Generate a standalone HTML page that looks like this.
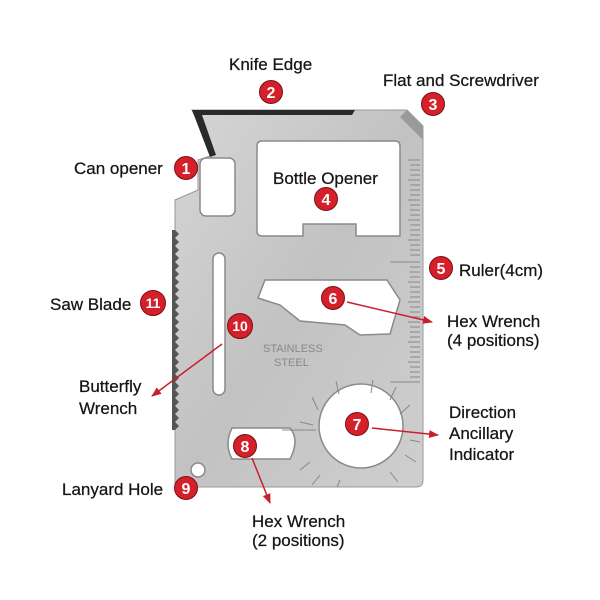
<!DOCTYPE html>
<html><head><meta charset="utf-8"><style>
html,body{margin:0;padding:0;background:#fff;width:600px;height:600px;overflow:hidden}
text{font-family:"Liberation Sans",Arial,sans-serif;font-size:17px;fill:#151515;stroke:#151515;stroke-width:0.25}
.n{fill:#fff;stroke:none;font-weight:bold;font-size:16px;text-anchor:middle}
</style></head><body>
<svg width="600" height="600" viewBox="0 0 600 600" xmlns="http://www.w3.org/2000/svg">
<defs>
<linearGradient id="g" x1="0" y1="0" x2="1" y2="1">
<stop offset="0" stop-color="#d6d6d6"/><stop offset="0.5" stop-color="#c2c2c2"/><stop offset="1" stop-color="#cfcfcf"/></linearGradient>
<marker id="a" markerWidth="10" markerHeight="8" refX="9" refY="4" orient="auto" markerUnits="userSpaceOnUse"><path d="M0,0 L10,4 L0,8z" fill="#c8202a"/></marker>
</defs>
<path d="M192,110 L407,110 L423,126 L423,480 Q423,487 416,487 L180,487 Q175,487 175,481 L175,200 L198,190 L198,160 L213,155 Z" fill="url(#g)" stroke="#999" stroke-width="1"/>
<path d="M192,110 L355,110 L352,115 L202,115 L216,155 L210,157 Z" fill="#2a2a2a"/>
<path d="M407,110 L423,126 L423,140 L400,117Z" fill="#9a9a9a"/>
<g fill="#555">
<path d="M175,230 l4,4 l-4,4 l4,4 l-4,4 l4,4 l-4,4 l4,4 l-4,4 l4,4 l-4,4 l4,4 l-4,4 l4,4 l-4,4 l4,4 l-4,4 l4,4 l-4,4 l4,4 l-4,4 l4,4 l-4,4 l4,4 l-4,4 l4,4 l-4,4 l4,4 l-4,4 l4,4 l-4,4 l4,4 l-4,4 l4,4 l-4,4 l4,4 l-4,4 l4,4 l-4,4 l4,4 l-4,4 l4,4 l-4,4 l4,4 l-4,4 l4,4 l-4,4 l4,4 l-4,4 l4,4 l-4,4 l-3,0 l0,-200z"/>
</g>
<g fill="#fff" stroke="#8a8a8a" stroke-width="1.5">
<rect x="200" y="158" width="35" height="58" rx="6"/>
<path d="M262,141 L395,141 Q400,141 400,146 L400,236 L356,236 L356,224 L303,224 L303,236 L262,236 Q257,236 257,231 L257,146 Q257,141 262,141Z"/>
<rect x="213" y="253" width="12" height="142" rx="6"/>
<path d="M265,280 L387,280 L400,300 L390,334 L360,335 L345,325 L300,321 L280,305 L258,298Z"/>
<circle cx="361" cy="426" r="42"/>
<path d="M232,428 L290,428 Q300,440 290,459 L232,459 Q224,444 232,428Z"/>
<circle cx="198" cy="470" r="7"/>
</g>
<g stroke="#888" stroke-width="1">
<path d="M408,160 H420 M410,165 H420 M410,170 H420 M410,175 H420 M408,180 H420 M410,185 H420 M410,190 H420 M410,195 H420 M408,200 H420 M410,205 H420 M410,210 H420 M410,215 H420 M408,220 H420 M410,225 H420 M410,230 H420 M410,235 H420 M408,240 H420 M410,245 H420 M410,250 H420 M410,255 H420 M390,262 H420 M410,267 H420 M410,272 H420 M410,277 H420 M408,282 H420 M410,287 H420 M410,292 H420 M410,297 H420 M408,302 H420 M410,307 H420 M410,312 H420 M410,317 H420 M408,322 H420 M410,327 H420 M410,332 H420 M410,337 H420 M408,342 H420 M410,347 H420 M410,352 H420 M410,357 H420 M408,362 H420 M410,367 H420 M410,372 H420 M410,377 H420 M390,382 H420"/>
<path d="M312,397 L318,410 M336,381 L339,394 M373,380 L371,393 M396,387 L390,400 M410,405 L400,414 M300,422 L313,425 M282,430 L316,430 M310,462 L300,470 M320,475 L312,485 M340,480 L337,487 M390,472 L398,482 M405,455 L416,462 M410,440 L420,442"/>
</g>
<text x="263" y="352" style="font-size:11px;fill:#888;stroke:none">STAINLESS</text>
<text x="274" y="366" style="font-size:11px;fill:#888;stroke:none">STEEL</text>
<g stroke="#c8202a" stroke-width="1.5" fill="none" marker-end="url(#a)">
<line x1="347" y1="302" x2="432" y2="322"/>
<line x1="372" y1="428" x2="438" y2="435"/>
<line x1="252" y1="458" x2="270" y2="503"/>
<line x1="222" y1="344" x2="152" y2="396"/>
</g>
<g fill="#d4202a" stroke="#7a1015" stroke-width="1">
<circle cx="186" cy="168" r="11.5"/><circle cx="271" cy="92" r="11.5"/><circle cx="433" cy="104" r="11.5"/>
<circle cx="326" cy="199" r="11.5"/><circle cx="441" cy="268" r="11.5"/><circle cx="333" cy="298" r="11.5"/>
<circle cx="357" cy="424" r="11.5"/><circle cx="245" cy="446" r="11.5"/><circle cx="186" cy="488" r="11.5"/>
<circle cx="240" cy="326" r="12.5"/><circle cx="153" cy="303" r="12.5"/>
</g>
<text class="n" x="186" y="174">1</text><text class="n" x="271" y="98">2</text><text class="n" x="433" y="110">3</text>
<text class="n" x="326" y="205">4</text><text class="n" x="441" y="274">5</text><text class="n" x="333" y="304">6</text>
<text class="n" x="357" y="430">7</text><text class="n" x="245" y="452">8</text><text class="n" x="186" y="494">9</text>
<text class="n" x="240" y="331" style="font-size:14px">10</text><text class="n" x="153" y="308" style="font-size:14px">11</text>
<text x="229" y="70">Knife Edge</text>
<text x="383" y="86">Flat and Screwdriver</text>
<text x="74" y="174">Can opener</text>
<text x="273" y="184">Bottle Opener</text>
<text x="459" y="276">Ruler(4cm)</text>
<text x="447" y="327">Hex Wrench</text>
<text x="447" y="346">(4 positions)</text>
<text x="50" y="310">Saw Blade</text>
<text x="79" y="392">Butterfly</text>
<text x="79" y="414">Wrench</text>
<text x="449" y="418">Direction</text>
<text x="449" y="439">Ancillary</text>
<text x="449" y="460">Indicator</text>
<text x="62" y="495">Lanyard Hole</text>
<text x="252" y="527">Hex Wrench</text>
<text x="252" y="546">(2 positions)</text>
</svg>
</body></html>
